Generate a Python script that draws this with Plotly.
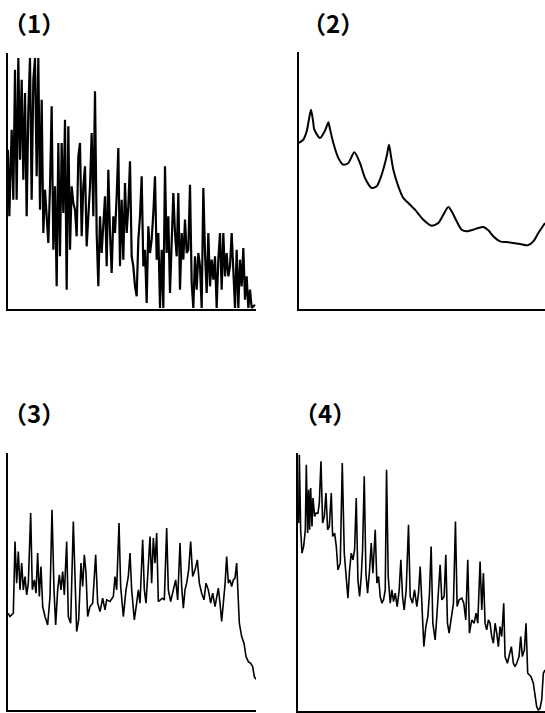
import plotly.graph_objects as go

W, H = 545, 713

# ---------------- data (arbitrary intensity units) ----------------
p1_x = [0, 4, 11, 16, 21, 26, 31, 36, 41, 46, 51, 56, 61, 66, 71, 76, 81, 86, 91, 96,
        101, 106, 111, 116, 121, 126, 131, 136, 141, 146, 151, 156, 161, 166, 171, 176,
        181, 186, 191, 196, 201, 206, 211, 216, 221, 226, 231, 236, 241, 246, 251, 256,
        261, 266, 271, 276, 281, 286, 291, 296, 301, 306, 311, 316, 321, 326, 331, 336,
        341, 346, 351, 356, 361, 366, 371, 376, 381, 386, 391, 396, 401, 406, 411, 416,
        421, 426, 431, 436, 441, 446, 451, 456, 461, 466, 471, 476, 481, 486, 491, 496,
        501, 506, 511, 516, 521, 526, 531, 536, 541, 546, 551, 556, 561, 566, 571, 576,
        581, 586, 591, 596, 601, 606, 611, 616, 621, 626, 631, 636, 641, 646, 651, 656,
        661, 666, 671, 676, 681, 686, 691, 696, 701, 706, 711, 716, 721, 726, 731, 741]
p1_y = [478, 278, 538, 328, 718, 328, 753, 448, 688, 388, 648, 278, 598, 753, 328, 688,
        753, 398, 753, 298, 628, 228, 358, 278, 198, 368, 608, 178, 368, 68, 498, 158,
        498, 288, 568, 58, 548, 178, 368, 318, 298, 218, 458, 498, 218, 368, 428, 188,
        278, 368, 528, 278, 653, 228, 68, 278, 168, 248, 338, 128, 418, 228, 108, 278,
        228, 338, 483, 128, 328, 148, 378, 228, 308, 443, 158, 128, 68, 38, 208, 278,
        398, 128, 178, 18, 248, 168, 208, 288, 398, 148, 228, 3, 178, 3, 428, 168,
        278, 48, 228, 348, 228, 158, 348, 58, 228, 148, 268, 168, 178, 373, 78, 3,
        158, 58, 168, 128, 3, 363, 168, 48, 228, 68, 148, 88, 158, 3, 148, 228,
        58, 228, 98, 168, 98, 128, 228, 98, 3, 178, 3, 148, 68, 183, 28, 98,
        3, 58, 3, 13]

p2_x = [0, 13, 23, 30, 36, 42, 46, 63, 78, 83, 88, 93, 103, 118, 133, 148, 166,
        183, 198, 218, 233, 248, 263, 270, 276, 283, 298, 313, 328, 348, 373, 398,
        418, 433, 448, 458, 473, 488, 503, 523, 538, 553, 568, 583, 603, 628, 663,
        686, 703, 718, 738]
p2_y = [498, 508, 533, 570, 598, 565, 538, 513, 535, 548, 560, 540, 498, 453, 433,
        438, 470, 438, 393, 363, 368, 403, 458, 493, 458, 418, 368, 333, 318, 298,
        268, 250, 258, 283, 306, 293, 263, 238, 233, 238, 243, 246, 236, 218, 203,
        200, 195, 191, 203, 228, 258]

p3_x = [0, 6, 16, 21, 26, 31, 36, 41, 46, 51, 56, 61, 68, 73, 79, 84, 89, 94, 99,
        104, 111, 119, 126, 132, 138, 143, 149, 154, 159, 164, 169, 176, 181, 188,
        196, 201, 206, 212, 219, 224, 229, 234, 239, 246, 254, 263, 269, 276, 284,
        291, 296, 306, 316, 321, 326, 333, 338, 346, 354, 361, 366, 371, 379, 386,
        391, 396, 404, 409, 414, 419, 426, 431, 436, 441, 446, 451, 456, 463, 469,
        476, 481, 488, 496, 503, 509, 516, 521, 526, 531, 536, 542, 548, 554, 561,
        568, 574, 581, 588, 594, 601, 608, 614, 621, 626, 631, 636, 641, 646, 651,
        656, 661, 666, 671, 676, 681, 686, 691, 694, 701, 708, 714, 721, 728, 734,
        739, 744]
p3_y = [290, 280, 290, 505, 380, 475, 360, 440, 360, 400, 345, 380, 590, 360, 390,
        350, 470, 340, 430, 310, 280, 255, 340, 600, 360, 255, 360, 405, 360, 415,
        345, 505, 280, 260, 565, 360, 235, 270, 440, 370, 465, 410, 280, 310, 320,
        465, 320, 295, 335, 300, 330, 325, 340, 400, 360, 560, 370, 280, 360, 400,
        470, 360, 270, 320, 360, 320, 510, 360, 320, 400, 520, 380, 515, 440, 530,
        325, 330, 335, 330, 545, 360, 325, 360, 390, 330, 500, 370, 305, 360, 380,
        420, 505, 400, 420, 450, 380, 350, 330, 380, 360, 320, 350, 310, 340, 365,
        320, 265, 320, 375, 460, 380, 390, 370, 390, 395, 440, 340, 260, 220, 200,
        160, 145, 140, 130, 100, 92]

p4_x = [2, 4, 8, 12, 17, 22, 25, 29, 32, 35, 38, 42, 45, 50, 54, 60, 64, 69, 74,
        79, 84, 89, 94, 100, 104, 110, 115, 120, 127, 133, 139, 145, 150, 155, 160,
        165, 170, 175, 180, 185, 190, 194, 199, 204, 209, 215, 220, 225, 232, 237,
        242, 247, 252, 257, 262, 266, 271, 277, 282, 287, 292, 298, 304, 309, 314,
        319, 325, 332, 337, 344, 350, 357, 362, 367, 372, 378, 384, 390, 395, 400,
        405, 412, 417, 422, 427, 432, 439, 444, 449, 454, 460, 467, 473, 478, 484,
        492, 498, 504, 510, 515, 522, 529, 535, 540, 547, 552, 557, 562, 567, 572,
        577, 582, 587, 592, 597, 602, 607, 612, 618, 622, 629, 635, 641, 647, 652,
        657, 664, 669, 674, 680, 685, 690, 695, 700, 707, 712, 717, 722, 727, 732,
        737, 742]
p4_y = [563, 768, 543, 473, 493, 543, 738, 533, 663, 543, 668, 553, 638, 583, 593,
        593, 623, 748, 563, 583, 653, 543, 553, 653, 523, 533, 493, 423, 443, 743,
        473, 403, 338, 423, 473, 453, 483, 638, 393, 343, 403, 483, 703, 413, 353,
        423, 503, 413, 543, 383, 403, 343, 323, 333, 363, 723, 403, 323, 363, 328,
        353, 313, 363, 453, 343, 303, 363, 558, 343, 323, 363, 313, 353, 433, 323,
        193, 253, 283, 353, 493, 263, 213, 283, 363, 438, 333, 343, 468, 263, 233,
        283, 323, 568, 313, 333, 338, 323, 273, 453, 233, 273, 263, 293, 263, 448,
        303, 413, 263, 243, 273, 263, 223, 203, 263, 233, 193, 253, 223, 323, 163,
        143, 173, 193, 143, 133, 143, 163, 223, 163, 183, 263, 113, 108, 103, 83,
        43, 13, 3, 8, 33, 113, 123]

panel_labels = ["（1）", "（2）", "（3）", "（4）"]

# ---------------- figure ----------------
fig = go.Figure()
series = [(p1_x, p1_y, 2.2), (p2_x, p2_y, 2.0), (p3_x, p3_y, 1.6), (p4_x, p4_y, 1.6)]
for i, (xs, ys, lw) in enumerate(series):
    sfx = "" if i == 0 else str(i + 1)
    line = dict(color="black", width=lw)
    if i == 1:
        line.update(shape="spline", smoothing=0.7)
    fig.add_trace(go.Scatter(
        x=xs, y=ys, mode="lines", line=line,
        xaxis="x" + sfx, yaxis="y" + sfx, hoverinfo="skip"))


def px(v):
    return v / W


def py(v):
    return 1 - v / H


# panel geometry (pixel boxes: left, right, top, bottom)
boxes = [(8, 256, 53, 309), (299, 545, 52, 309), (8, 256, 453, 710), (298, 545, 453, 711)]
xranges = [[0, 744], [0, 738], [0, 744], [0, 742]]
yranges = [[0, 768], [0, 771], [0, 770], [0, 773]]

layout = dict(
    width=W, height=H, margin=dict(l=0, r=0, t=0, b=0),
    paper_bgcolor="white", plot_bgcolor="white", showlegend=False,
)
for i, (l, r, t, b) in enumerate(boxes):
    sfx = "" if i == 0 else str(i + 1)
    ax = dict(showgrid=False, zeroline=False, showticklabels=False, ticks="",
              showline=True, linecolor="black", linewidth=2, fixedrange=True)
    layout["xaxis" + sfx] = dict(ax, domain=[px(l), px(r)], range=xranges[i],
                                 anchor="y" + sfx)
    layout["yaxis" + sfx] = dict(ax, domain=[py(b), py(t)], range=yranges[i],
                                 anchor="x" + sfx)
fig.update_layout(**layout)

# label box top-left corners (pixels)
label_pos = [(1, 3), (300, 3), (1, 393), (292, 393)]
for (x0, y0), txt in zip(label_pos, panel_labels):
    fig.add_annotation(
        text=txt, xref="paper", yref="paper", x=px(x0), y=py(y0),
        xanchor="left", yanchor="top", showarrow=False,
        font=dict(family="Noto Sans CJK JP", size=24, color="black", weight="bold"))

fig.write_html("out.html", config={"displayModeBar": False},
               post_script="document.body.style.margin='0';document.body.style.overflow='hidden';")
